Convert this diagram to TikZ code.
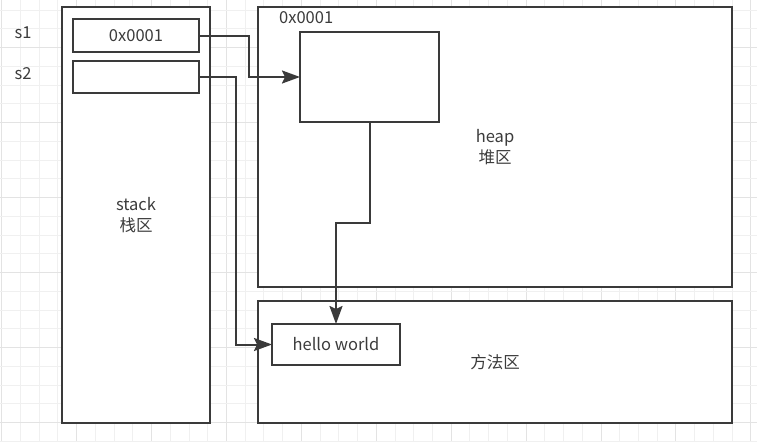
\documentclass[tikz,border=0pt]{standalone}
\usepackage{fontspec}
\setmainfont{Noto Sans CJK SC}
\usetikzlibrary{arrows.meta}
\definecolor{ln}{HTML}{3A3A3A}
\definecolor{tx}{HTML}{3C3C3C}
\definecolor{gminor}{HTML}{F0F0F0}
\definecolor{gmajor}{HTML}{E3E3E3}
\tikzset{
  box/.style={draw=ln, line width=2pt, fill=white, rectangle, inner sep=0pt, outer sep=0pt},
  lbl/.style={text=tx, font=\fontsize{16.5pt}{21pt}\selectfont, inner sep=0pt, align=center},
  conn/.style={draw=ln, line width=2pt, -{Stealth[length=18pt, width=13pt, inset=3pt]}},
}
\begin{document}
\begin{tikzpicture}[x=1pt, y=-1pt]
\useasboundingbox (0,0) rectangle (757,442);
\fill[white] (0,0) rectangle (757,442);
% grid
\foreach \i in {0,...,40} {
  \pgfmathsetmacro{\gx}{1.7+18.73*\i}
  \pgfmathtruncatemacro{\mj}{mod(\i,4)}
  \ifnum\mj=0 \draw[gmajor, line width=1pt] (\gx,0) -- (\gx,442);
  \else \draw[gminor, line width=1pt] (\gx,0) -- (\gx,442); \fi
}
\foreach \j in {0,...,23} {
  \pgfmathsetmacro{\gy}{10+18.75*\j}
  \pgfmathtruncatemacro{\mj}{mod(\j,4)}
  \ifnum\mj=2 \draw[gmajor, line width=1pt] (0,\gy) -- (757,\gy);
  \else \draw[gminor, line width=1pt] (0,\gy) -- (757,\gy); \fi
}
% containers
\node[box, minimum width=148pt, minimum height=416pt] (stack) at (136,215) {};
\node[box, minimum width=474pt, minimum height=280pt] (heap) at (495,147) {};
\node[box, minimum width=474pt, minimum height=122pt] (method) at (495,362) {};
% inner boxes
\node[box, minimum width=126pt, minimum height=33pt] (s1) at (136,35.5) {};
\node[box, minimum width=126pt, minimum height=32pt] (s2) at (136,77) {};
\node[box, minimum width=139pt, minimum height=90pt] (obj) at (369.5,77) {};
\node[box, minimum width=128pt, minimum height=41pt] (hello) at (336,344.5) {};
% labels
\node[lbl] (s1v) at (s1.center) {0x0001};
\node[lbl] (hw) at (hello.center) {hello world};
\node[lbl] (s1l) at (23,33) {s1};
\node[lbl] (s2l) at (23,74) {s2};
\node[lbl, anchor=west] (addr) at (279,18) {0x0001};
\node[lbl] (stackl) at (stack.center) {stack\\栈区};
\node[lbl] (heapl) at (heap.center) {heap\\堆区};
\node[lbl] (methl) at (method.center) {方法区};
% connectors
\draw[conn] (s1.east) -- ++(50,0) |- (obj.west);
\draw[conn] (s2.east) -- ++(36.5,0) |- (hello.west);
\draw[conn] (obj.south) -- ++(0,100.7) -| (hello.north);
\end{tikzpicture}
\end{document}
